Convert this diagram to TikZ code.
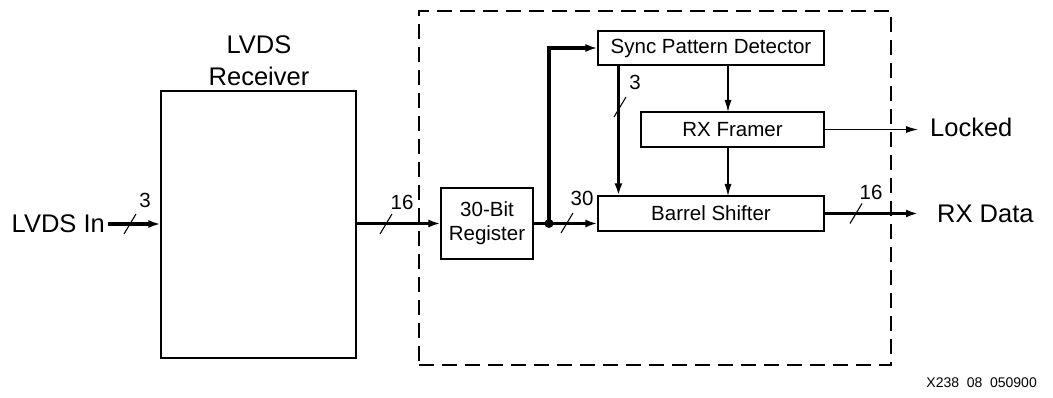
\documentclass[tikz,border=0pt]{standalone}
\usepackage{fontspec}
\setmainfont{Liberation Sans}
\usetikzlibrary{arrows.meta}
\begin{document}
\begin{tikzpicture}[x=1pt,y=-1pt,
  box/.style={draw, line width=1.1pt, inner sep=0pt, align=center, font=\fontsize{20.5}{24}\selectfont},
  bus/.style={line width=3.3pt, -{Latex[length=12pt,width=8pt]}},
  busline/.style={line width=3.3pt},
  sig/.style={line width=1.1pt, -{Latex[length=12pt,width=7pt]}},
  lbl/.style={inner sep=0pt, font=\fontsize{25.5}{30}\selectfont},
  num/.style={inner sep=0pt, font=\fontsize{20.5}{24}\selectfont},
  slash/.style={line width=1.1pt},
  dashbox/.style={draw, line width=1.2pt, dash pattern=on 15pt off 8pt, inner sep=0pt},
]
\useasboundingbox (0,0) rectangle (1053,398);

% dashed enclosure
\node[dashbox, minimum width=472pt, minimum height=354pt] (encl) at (655,188) {};

% boxes
\node[box, minimum width=195pt, minimum height=267pt] (rcv) at (258.5,224.5) {};
\node[box, minimum width=92pt, minimum height=71pt] (reg) at (487,223.5) {30-Bit\\Register};
\node[box, minimum width=226pt, minimum height=34pt] (spd) at (711,48) {Sync Pattern Detector};
\node[box, minimum width=183pt, minimum height=35pt] (fr) at (732.5,129.5) {RX Framer};
\node[box, minimum width=226pt, minimum height=35pt] (bs) at (711,213.5) {Barrel Shifter};

% receiver label
\node[lbl, anchor=base] (rl1) at (259,54) {LVDS};
\node[lbl, anchor=base] (rl2) at (259,86) {Receiver};

% external labels
\node[lbl, anchor=base east] (lvdsin) at (105,233) {LVDS In};
\node[lbl, anchor=base west] (locked) at (930,136.5) {Locked};
\node[lbl, anchor=base west] (rxdata) at (937,222.5) {RX Data};

% coordinates
\coordinate (lin) at (108,224);
\coordinate (j) at (549,223.5);
\coordinate (up) at (549,48);
\coordinate (lk) at (918,129.5);
\coordinate (rd) at (918,213.5);
\coordinate (a1) at (728,65);
\coordinate (a2) at (728,112);
\coordinate (a3) at (728,147);
\coordinate (a4) at (728,196);

% LVDS in
\draw[bus] (lin) -- (lin -| rcv.west);
\draw[slash] (130,224) ++(-6,10) -- ++(12,-20);
\node[num] (n3a) at (145,200) {3};

% receiver -> register
\draw[bus] (rcv.east |- reg.west) -- (reg.west);
\draw[slash] (386,224) ++(-6,10) -- ++(12,-20);
\node[num] (n16a) at (402,202) {16};

% register -> barrel shifter
\draw[busline] (reg.east) -- (j);
\draw[bus] (j) -- (j -| bs.west);
\draw[slash] (567,223) ++(-6,10) -- ++(12,-20);
\node[num] (n30) at (582,198) {30};

% junction up to sync detector
\draw[line width=3.3pt, line join=miter, -{Latex[length=12pt,width=8pt]}] (j) -- (up) -- (spd.west);
\fill (j) circle (4.5pt);

% sync -> barrel (3)
\draw[bus] ([xshift=21pt]spd.south west) -- ([xshift=21pt]bs.north west);
\draw[slash] (620,107) ++(-6,10) -- ++(12,-20);
\node[num] (n3b) at (635,82) {3};

% thin control arrows
\draw[sig] (a1) -- (a2);
\draw[sig] (a3) -- (a4);
\draw[sig] (fr.east) -- (lk);

% barrel -> RX data
\draw[bus] (bs.east) -- (rd);
\draw[slash] (856,213.5) ++(-6,10) -- ++(12,-20);
\node[num] (n16b) at (871,192) {16};

% footer
\node[anchor=base east, inner sep=0pt, font=\fontsize{14}{16}\selectfont] (ftr) at (1037,387) {X238\hspace{0.55em}08\hspace{0.55em}050900};
\end{tikzpicture}
\end{document}
